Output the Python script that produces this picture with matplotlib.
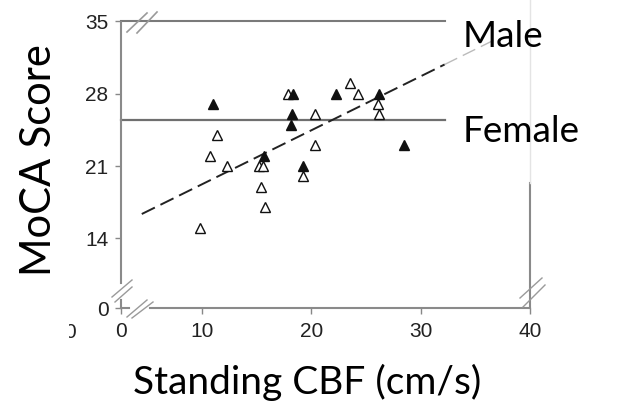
import matplotlib
matplotlib.use("Agg")
import matplotlib.pyplot as plt
from matplotlib.lines import Line2D
from matplotlib.patches import Rectangle

# ---- data ----
male_x = [9.8, 10.7, 11.4, 12.3, 15.2, 15.6, 15.4, 15.8, 17.9, 19.2, 20.3, 20.3, 23.5, 24.3, 26.1, 26.2]
male_y = [15, 22, 24, 21, 21, 21, 19, 17, 28, 20, 26, 23, 29, 28, 27, 26]
female_x = [11.0, 15.7, 18.1, 18.2, 18.3, 19.2, 22.3, 26.2, 28.5]
female_y = [27, 22, 25, 26, 28, 21, 28, 28, 23]
male_fit = {"intercept": 14.0, "slope": 0.523}
male_fit_x = [4.5, 32.2]
male_fit_x_ext = [32.2, 36.8]
female_mean = 25.5
x_ticks = [2.6, 10, 20, 30, 40]
x_ticklabels = ["0", "10", "20", "30", "40"]
y_ticks = [7.25, 14, 21, 28, 35]
y_ticklabels = ["0", "14", "21", "28", "35"]

W, H = 625, 418
fig = plt.figure(figsize=(W / 100, H / 100), dpi=100)

ax = fig.add_axes([121 / W, 1 - 308 / H, (530 - 121) / W, (308 - 21.5) / H])
ax.set_xlim(2.6, 40)
ax.set_ylim(7.25, 35)
for s in ax.spines.values():
    s.set_visible(False)
ax.patch.set_alpha(0)

ax.set_xticks(x_ticks)
ax.set_xticklabels(x_ticklabels)
ax.set_yticks(y_ticks)
ax.set_yticklabels(y_ticklabels)
ax.tick_params(axis="both", direction="out", length=4, width=1, color="#888888",
               labelsize=15, labelcolor="#222222")
ax.tick_params(axis="y", pad=5)
ax.tick_params(axis="x", pad=6)
for lab in ax.get_xticklabels() + ax.get_yticklabels():
    lab.set_fontfamily("Liberation Sans")

gc = "#8a8a8a"
ax.plot([2.6, 32.2], [35, 35], color="#7a7a7a", lw=1.5, clip_on=False, zorder=2)
ax.plot([2.6, 32.2], [female_mean, female_mean], color="#6f6f6f", lw=1.6, clip_on=False, zorder=2)

# male regression line
fx = male_fit_x
ax.plot(fx, [male_fit["intercept"] + male_fit["slope"] * v for v in fx],
        color="#222222", lw=1.4, dashes=(7.5, 3.2), clip_on=False, zorder=3)
fx2 = male_fit_x_ext
ax.plot(fx2, [male_fit["intercept"] + male_fit["slope"] * v for v in fx2],
        color="#bbbbbb", lw=1.0, dashes=(10, 4.5), clip_on=False, zorder=3)

ax.plot(male_x, male_y, linestyle="none", marker="^", markersize=7.5,
        markerfacecolor="white", markeredgecolor="#111111", markeredgewidth=1.0, zorder=4)
ax.plot(female_x, female_y, linestyle="none", marker="^", markersize=7.5,
        markerfacecolor="#111111", markeredgecolor="#111111", markeredgewidth=1.0, zorder=5)

def fline(pts, color=gc, lw=1.5):
    xs = [p[0] / W for p in pts]
    ys = [1 - p[1] / H for p in pts]
    fig.add_artist(Line2D(xs, ys, color=color, lw=lw, transform=fig.transFigure))

fline([(121, 21.5), (121, 283)])
fline([(121, 300), (121, 308)])
fline([(121, 308), (129, 308)])
fline([(150, 308), (530, 308)])
fline([(530, 183), (530, 308)])
fline([(530, 0), (530, 183)], color="#e4e4e4", lw=1.0)
bc = "#9a9a9a"
fline([(127, 32), (147, 13)], color=bc, lw=1.2)
fline([(137, 33), (157, 12)], color=bc, lw=1.2)
fline([(112, 297), (132, 280)], color=bc, lw=1.0)
fline([(115, 302), (132, 287)], color=bc, lw=1.0)
fline([(127, 317), (147, 300)], color=bc, lw=1.0)
fline([(132, 318), (153, 302)], color=bc, lw=1.0)
fline([(520, 298), (542, 278)], color=bc, lw=1.0)
fline([(523, 307), (545, 285)], color=bc, lw=1.0)

# clipped stray "0"
fig.text(70 / W, 1 - 332 / H, "0", fontsize=15, family="Liberation Sans", color="#222222",
         ha="center", va="center")
fig.add_artist(Rectangle((60 / W, 1 - 345 / H), 9 / W, 25 / H, transform=fig.transFigure,
                         facecolor="white", edgecolor="none", zorder=10))

lab_font = "Lato"
fig.text(39 / W, 1 - 160 / H, "MoCA Score", rotation=90, fontsize=30, family=lab_font,
         ha="center", va="center", color="black")
fig.text(307 / W, 1 - 382 / H, "Standing CBF (cm/s)", fontsize=28, family=lab_font,
         ha="center", va="center", color="black")
fig.text(463 / W, 1 - 47 / H, "Male", fontsize=26.5, family=lab_font,
         ha="left", va="baseline", color="black")
fig.text(463 / W, 1 - 142 / H, "Female", fontsize=26.5, family=lab_font,
         ha="left", va="baseline", color="black")

fig.savefig("out.png", dpi=100, facecolor="white")
